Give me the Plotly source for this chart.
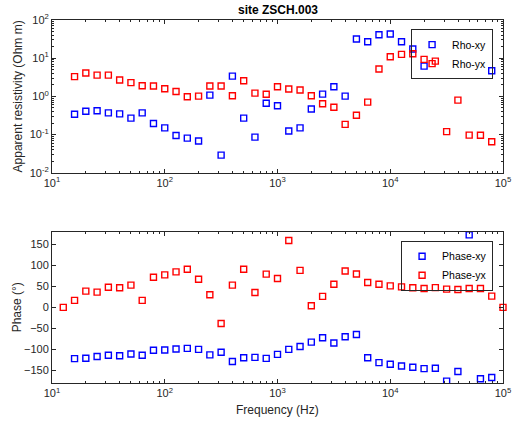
import numpy as np
import plotly.graph_objects as go

nan = float("nan")

# Frequencies (Hz), 10 per decade
freq_rho = [15.85, 19.95, 25.12, 31.62, 39.81, 50.12, 63.10, 79.43, 100, 125.9, 158.5, 199.5,
            251.2, 316.2, 398.1, 501.2, 631.0, 794.3, 1000, 1259, 1585, 1995, 2512, 3162,
            3981, 5012, 6310, 7943, 10000, 12589, 15849, 19953, 25119, 31623, 39811,
            50119, 63096, 79433]

rho_xy = [0.34, 0.41, 0.42, 0.37, 0.35, 0.27, 0.37, 0.196, 0.15, 0.095, 0.081, 0.068,
          1.08, 0.029, 3.4, 0.27, 0.086, 0.66, 0.57, 0.124, 0.15, 0.47, 1.15, 1.79,
          1.02, 31.8, 27, 41, 43, 27, 17.4, 6.2, nan, nan, nan, nan, nan, 4.7]

rho_yx = [3.3, 4.1, 3.6, 3.6, 2.7, 2.3, 1.9, 1.87, 1.58, 1.35, 0.98, 1.02,
          1.87, 1.87, 1.04, 2.57, 1.22, 1.14, 1.79, 1.56, 1.47, 1.04, 0.64, 0.52,
          0.185, 0.32, 0.71, 5.2, 10.9, 12.6, 13.1, 9.3, 8.4, 0.12, 0.8,
          0.097, 0.096, 0.065]

freq_phs = [12.59] + freq_rho + [100000]

phase_xy = [nan, -122, -121, -117, -114, -115, -111, -114, -102, -101.6, -99, -97.6, -100,
            -113, -107, -129, -120, -119, -121.5, -112, -100, -93, -82.7, -72.4, -85,
            -70, -64.6, -120, -131.5, -135.4, -139.4, -142.5, -145.7, -145, -175.6,
            -152.8, 172.4, -170, -167, nan]

phase_yx = [0, 16.5, 38.6, 36.2, 48, 46.5, 52.8, 16.5, 71.7, 77.2, 84.3, 90.6, 67,
            30, -38.6, 52.8, 90.6, 35.4, 79, 68.5, 159, 88, 3.9, 26, 55,
            86.6, 79.5, 59, 55, 51, 48.8, 46.5, 45, 47, 43.3,
            42.5, 45, 45, 26.8, 0]

x_tickvals = [10, 100, 1000, 10000, 100000]
x_ticktext = ["10<sup>1</sup>", "10<sup>2</sup>", "10<sup>3</sup>", "10<sup>4</sup>", "10<sup>5</sup>"]
y_tickvals = [0.01, 0.1, 1, 10, 100]
y_ticktext = ["10<sup>-2</sup>", "10<sup>-1</sup>", "10<sup>0</sup>", "10<sup>1</sup>", "10<sup>2</sup>"]
phase_ticks = [-150, -100, -50, 0, 50, 100, 150]

x_minor = [m * 10 ** d for d in range(1, 5) for m in range(2, 10)]
y_minor = [m * 10 ** d for d in range(-2, 2) for m in range(2, 10)]

AX = "#262626"
FONT = "Liberation Sans, Arial, Helvetica, sans-serif"

fig = go.Figure()
msty = dict(symbol="square-open", size=6, line=dict(width=1.4))

fig.add_trace(go.Scatter(x=freq_rho, y=rho_xy, mode="markers", name="Rho-xy",
                         marker=dict(color="#0000ff", **msty), xaxis="x", yaxis="y",
                         legend="legend"))
fig.add_trace(go.Scatter(x=freq_rho, y=rho_yx, mode="markers", name="Rho-yx",
                         marker=dict(color="#ff0000", **msty), xaxis="x", yaxis="y",
                         legend="legend"))
fig.add_trace(go.Scatter(x=freq_phs, y=phase_xy, mode="markers", name="Phase-xy",
                         marker=dict(color="#0000ff", **msty), xaxis="x2", yaxis="y2",
                         legend="legend2", cliponaxis=True))
fig.add_trace(go.Scatter(x=freq_phs, y=phase_yx, mode="markers", name="Phase-yx",
                         marker=dict(color="#ff0000", **msty), xaxis="x2", yaxis="y2",
                         legend="legend2", cliponaxis=False))

common = dict(showline=True, linecolor=AX, linewidth=1, mirror="ticks", ticks="inside",
              ticklen=4, tickcolor=AX, tickwidth=1, showgrid=False, zeroline=False,
              tickfont=dict(family=FONT, size=11, color=AX))

minor_x = dict(tickvals=x_minor, ticks="inside", ticklen=2, tickcolor=AX, showgrid=False)
minor_y = dict(tickvals=y_minor, ticks="inside", ticklen=2, tickcolor=AX, showgrid=False)

legend_style = dict(xanchor="right", yanchor="top", bordercolor=AX, borderwidth=1,
                    bgcolor="rgba(255,255,255,0)",
                    font=dict(family=FONT, size=10.5, color="#000000"),
                    tracegroupgap=0, itemwidth=30)

fig.update_layout(
    width=521, height=423,
    margin=dict(l=52, r=10, t=20, b=40),
    paper_bgcolor="white", plot_bgcolor="white",
    showlegend=True,
    xaxis=dict(type="log", range=[1, 5], domain=[0, 1], anchor="y",
               tickmode="array", tickvals=x_tickvals, ticktext=x_ticktext,
               minor=minor_x, **common),
    yaxis=dict(type="log", range=[-2, 2], domain=[0.579, 1], anchor="x",
               tickmode="array", tickvals=y_tickvals, ticktext=y_ticktext,
               minor=minor_y, **common),
    xaxis2=dict(type="log", range=[1, 5], domain=[0, 1], anchor="y2",
                tickmode="array", tickvals=x_tickvals, ticktext=x_ticktext,
                minor=minor_x, **common),
    yaxis2=dict(range=[-180, 180], domain=[0, 0.4168], anchor="x2",
                tickmode="array", tickvals=phase_ticks, **common),
    legend=dict(x=0.978, y=0.975, **legend_style),
    legend2=dict(x=0.978, y=0.392, **legend_style),
    annotations=[
        dict(text="<b>site ZSCH.003</b>", xref="paper", yref="paper", x=0.5, y=1,
             yshift=10, showarrow=False, font=dict(family=FONT, size=12, color="#000000"),
             yanchor="middle"),
        dict(text="Apparent resistivity (Ohm m)", xref="paper", yref="paper",
             x=0, xshift=-34, y=(0.579 + 1) / 2, textangle=-90, showarrow=False,
             font=dict(family=FONT, size=12, color=AX), xanchor="center", yanchor="middle"),
        dict(text="Phase (°)", xref="paper", yref="paper",
             x=0, xshift=-35, y=0.4168 / 2, textangle=-90, showarrow=False,
             font=dict(family=FONT, size=12, color=AX), xanchor="center", yanchor="middle"),
        dict(text="Frequency (Hz)", xref="paper", yref="paper",
             x=0.5, y=0, yshift=-27, showarrow=False,
             font=dict(family=FONT, size=12, color=AX), xanchor="center", yanchor="middle"),
    ],
)

fig.write_html("out.html")
